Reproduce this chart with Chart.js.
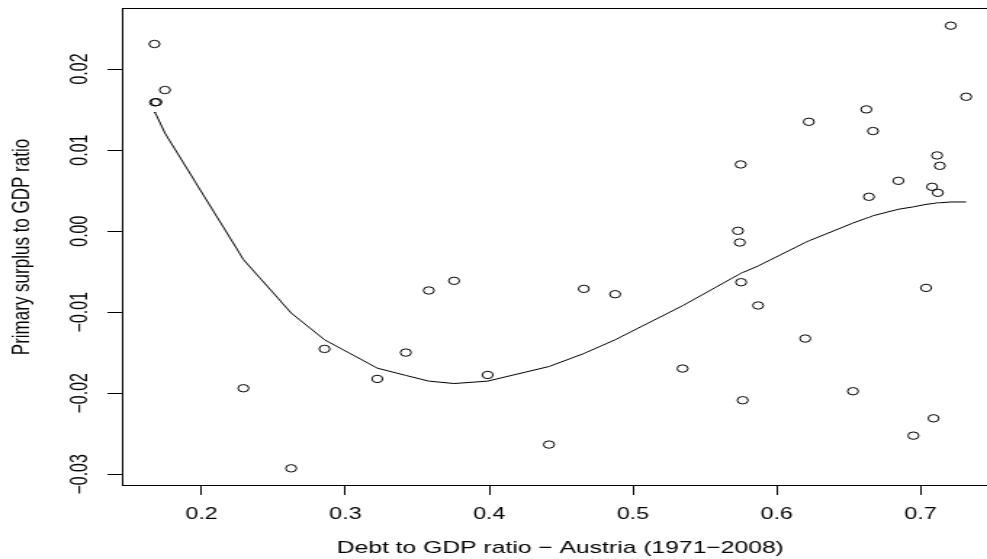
<!DOCTYPE html>
<html>
<head>
<meta charset="utf-8">
<script src="https://cdn.jsdelivr.net/npm/chart.js@4.4.1/dist/chart.umd.min.js"></script>
<style>
  html, body { margin: 0; padding: 0; background: #fff; overflow: hidden; width: 987px; height: 559px; }
  #c { display: block; transform: scaleX(1.4515); transform-origin: 0 0; }
</style>
</head>
<body>
<canvas id="c" width="700" height="559"></canvas>
<script>
// Debt to GDP ratio (x) and primary surplus to GDP ratio (y), Austria 1971-2008
const debtRatio = [
  0.1672, 0.1745, 0.1676, 0.1686, 0.7210, 0.7317, 0.6623, 0.6223, 0.6669, 0.7115,
  0.5749, 0.7134, 0.6846, 0.7080, 0.7120, 0.6641, 0.5730, 0.5743, 0.5752, 0.7038,
  0.5870, 0.6198, 0.6530, 0.5763, 0.7090, 0.6950, 0.3580, 0.3756, 0.4658, 0.4876,
  0.3420, 0.3989, 0.5345, 0.4416, 0.2855, 0.3222, 0.2291, 0.2623
];
const primarySurplus = [
  0.02309, 0.01741, 0.01589, 0.01592, 0.02535, 0.01658, 0.01502, 0.01349, 0.01235, 0.00934,
  0.00823, 0.00806, 0.00621, 0.00547, 0.00473, 0.00424, 0.00004, -0.00140, -0.00630, -0.00700,
  -0.00917, -0.01325, -0.01975, -0.02086, -0.02309, -0.02523, -0.00732, -0.00613, -0.00712, -0.00778,
  -0.01498, -0.01774, -0.01695, -0.02633, -0.01453, -0.01823, -0.01938, -0.02926
];
// Lowess smooth (fitted values at sorted x)
const smoothX = [
  0.1672, 0.1676, 0.1686, 0.1745, 0.2291, 0.2623, 0.2855, 0.3222, 0.3420, 0.3580,
  0.3756, 0.3989, 0.4416, 0.4658, 0.4876, 0.5345, 0.5730, 0.5743, 0.5749, 0.5752,
  0.5763, 0.5870, 0.6198, 0.6223, 0.6530, 0.6623, 0.6641, 0.6669, 0.6846, 0.6950,
  0.7038, 0.7080, 0.7090, 0.7115, 0.7120, 0.7134, 0.7210, 0.7317
];
const smoothY = [
  0.0147, 0.0146, 0.0143, 0.0121, -0.0035, -0.0101, -0.0134, -0.0169, -0.0178, -0.0185,
  -0.0188, -0.0185, -0.0167, -0.0151, -0.0134, -0.0092, -0.0054, -0.0053, -0.0052, -0.0052,
  -0.0051, -0.0043, -0.0014, -0.0012, 0.0010, 0.0016, 0.0017, 0.0019, 0.0027, 0.0030,
  0.0033, 0.0034, 0.0034, 0.0035, 0.0035, 0.0035, 0.0036, 0.0036
];
const xTicks = [0.2, 0.3, 0.4, 0.5, 0.6, 0.7];
const yTicks = [-0.03, -0.02, -0.01, 0.00, 0.01, 0.02];
const xTitle = 'Debt to GDP ratio \u2212 Austria (1971\u22122008)';
const yTitle = 'Primary surplus to GDP ratio';

const FONT = '"Liberation Sans", Arial, Helvetica, sans-serif';

const boxPlugin = {
  id: 'box',
  afterDraw(chart) {
    const { ctx, chartArea: a } = chart;
    ctx.save();
    ctx.strokeStyle = '#000';
    ctx.lineWidth = 1;
    const l = Math.round(a.left) + 0.5, t = Math.round(a.top) + 0.5;
    const r = Math.round(a.right) + 0.5, b = Math.round(a.bottom) - 0.5;
    ctx.strokeRect(l, t, r - l, b - t);
    ctx.restore();
  }
};

const fmt = (v, d) => {
  if (Math.abs(v) < 1e-9) return (0).toFixed(d);
  const s = Math.abs(v).toFixed(d);
  return v < 0 ? '\u2212' + s : s;
};

new Chart(document.getElementById('c'), {
  type: 'scatter',
  data: {
    datasets: [
      {
        type: 'line',
        data: smoothX.map((x, i) => ({ x, y: smoothY[i] })),
        borderColor: '#000',
        borderWidth: 1,
        pointRadius: 0,
        fill: false,
        tension: 0
      },
      {
        data: debtRatio.map((x, i) => ({ x, y: primarySurplus[i] })),
        pointStyle: 'circle',
        pointRadius: 3.7,
        pointBorderWidth: 1,
        pointBorderColor: '#000',
        pointBackgroundColor: 'rgba(0,0,0,0)',
        showLine: false
      }
    ]
  },
  options: {
    responsive: false,
    animation: false,
    events: [],
    layout: { padding: { top: 8, right: 12, bottom: 0, left: 0 } },
    plugins: { legend: { display: false }, tooltip: { enabled: false } },
    scales: {
      x: {
        type: 'linear',
        min: 0.1446,
        max: 0.7543,
        afterBuildTicks: s => { s.ticks = xTicks.map(v => ({ value: v })); },
        afterFit: s => { s.height = 73; },
        border: { display: false },
        grid: { display: true, drawOnChartArea: false, drawTicks: true, tickLength: 9, color: '#000', lineWidth: 1 },
        ticks: {
          color: '#000',
          font: { family: FONT, size: 16 },
          padding: 10,
          maxRotation: 0,
          autoSkip: false,
          callback: v => fmt(v, 1)
        },
        title: {
          display: true,
          text: xTitle,
          color: '#000',
          font: { family: FONT, size: 17 },
          padding: { top: 0, bottom: 0 }
        }
      },
      y: {
        type: 'linear',
        min: -0.03144,
        max: 0.02753,
        afterBuildTicks: s => { s.ticks = yTicks.map(v => ({ value: v })); },
        afterFit: s => { s.width = 84; },
        border: { display: false },
        grid: { display: true, drawOnChartArea: false, drawTicks: true, tickLength: 10, color: '#000', lineWidth: 1 },
        ticks: {
          color: '#000',
          font: { family: FONT, size: 16 },
          padding: -2,
          minRotation: 90,
          maxRotation: 90,
          crossAlign: 'center',
          autoSkip: false,
          callback: v => fmt(v, 2)
        },
        title: {
          display: true,
          text: yTitle,
          color: '#000',
          font: { family: FONT, size: 17 },
          padding: { top: 5, bottom: 0 }
        }
      }
    }
  },
  plugins: [boxPlugin]
});
</script>
</body>
</html>
